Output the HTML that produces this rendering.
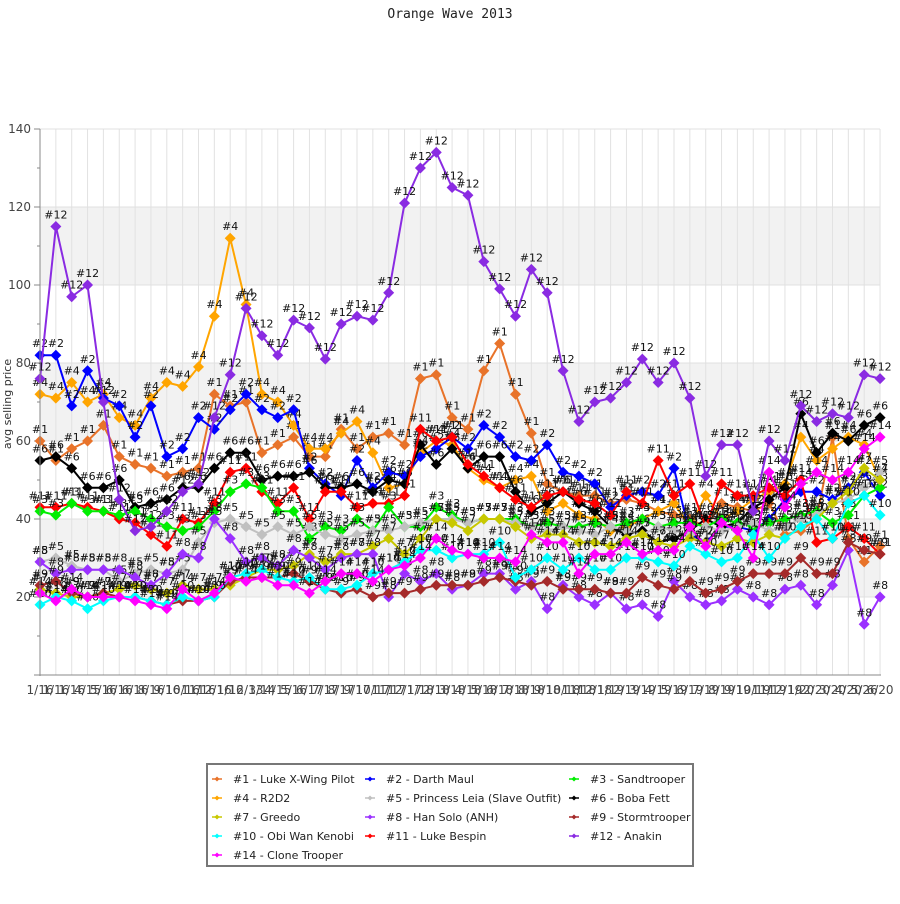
<!DOCTYPE html>
<html><head><meta charset="utf-8">
<style>
body{margin:0;background:#fff;width:900px;height:900px;overflow:hidden;font-family:"DejaVu Sans","Liberation Sans",sans-serif}
</style></head><body>
<svg id="c" width="900" height="900" xmlns="http://www.w3.org/2000/svg" font-family="DejaVu Sans, Liberation Sans, sans-serif">
<rect width="900" height="900" fill="#fff"/>
<text x="450" y="18" text-anchor="middle" font-family="DejaVu Sans Mono,Liberation Mono,monospace" font-size="13" fill="#222">Orange Wave 2013</text>
<rect x="40" y="207" width="840" height="78" fill="#f2f2f2"/>
<rect x="40" y="363" width="840" height="78" fill="#f2f2f2"/>
<rect x="40" y="519" width="840" height="78" fill="#f2f2f2"/>
<g id="grid"></g>
<g id="series"></g>
<line x1="40" y1="129" x2="40" y2="676" stroke="#888" stroke-width="1"/>
<line x1="34" y1="675" x2="881" y2="675" stroke="#888" stroke-width="1"/>
<text transform="translate(11,404) rotate(-90)" text-anchor="middle" font-size="11" fill="#333">avg selling price</text>
<rect x="207" y="764" width="486" height="102" fill="#fff" stroke="#777" stroke-width="2"/>
<g id="legend" font-size="11" fill="#222"></g>
</svg>
<script>
var NS="http://www.w3.org/2000/svg";
function el(t,a,p,txt){var e=document.createElementNS(NS,t);for(var k in a)e.setAttribute(k,a[k]);if(txt!=null)e.textContent=txt;p.appendChild(e);return e;}
var N=54,X0=40,DX=15.85;
function X(i){return X0+i*DX;}
function Y(v){return 675-v*3.9;}
var g=document.getElementById('grid');
for(var i=0;i<N;i++){el('line',{x1:X(i),y1:129,x2:X(i),y2:675,stroke:'#e2e2e2','stroke-width':1},g);}
for(var v=20;v<=140;v+=20){el('line',{x1:40,y1:Y(v),x2:880,y2:Y(v),stroke:'#e0e0e0','stroke-width':1},g);
el('line',{x1:34,y1:Y(v),x2:40,y2:Y(v),stroke:'#888'},g);
el('text',{x:31,y:Y(v)+4,'text-anchor':'end','font-size':12,fill:'#444'},g,String(v));}
for(var v=10;v<=130;v+=20){el('line',{x1:37,y1:Y(v),x2:40,y2:Y(v),stroke:'#888'},g);}
var dates=['1/16','1/16','1/16','4/15','5/16','6/16','6/16','8/16','9/16','10/16','11/16','12/16','1/16','12/13','3/14','4/15','5/16','6/17','7/17','8/17','9/17','10/17','11/17','12/17','1/18','2/18','3/18','4/18','5/18','6/18','7/18','8/18','9/18','10/18','11/18','12/18','1/19','2/19','3/19','4/19','5/19','6/19','7/19','8/19','9/19','10/19','11/19','12/19','1/20','2/20','3/20','4/20','5/26','6/20'];
for(var i=0;i<N;i++){el('text',{x:X(i),y:694,'text-anchor':'middle','font-size':12,fill:'#444'},g,dates[i]);}
var S=[
['1','#e8732a',[60,55,58,60,64,56,54,53,51,52,53,72,69,70,57,59,61,56,56,63,58,61,62,59,76,77,66,63,78,85,72,62,49,47,46,46,44,45,44,42,41,40,38,44,43,42,44,36,37,40,61,35,29,33]],
['4','#ffa500',[72,71,75,70,72,66,64,71,75,74,79,92,112,95,72,70,64,58,58,62,65,57,48,49,57,60,59,53,50,48,50,51,42,44,41,40,37,38,40,42,44,38,46,40,42,45,47,49,61,55,58,61,59,50]],
['2','#0000ff',[82,82,69,78,71,69,61,69,56,58,66,63,68,72,68,66,68,53,49,46,55,48,52,51,56,58,61,58,64,61,56,55,59,52,51,49,43,46,47,46,53,36,34,38,38,37,40,45,47,47,45,48,52,46]],
['6','#000000',[55,56,53,48,48,50,43,44,45,48,48,53,57,57,50,51,51,52,48,48,49,47,50,49,59,54,58,53,56,56,47,42,44,47,44,42,38,36,37,34,35,37,40,38,39,43,45,48,67,57,62,60,64,66]],
['11','#ff0000',[43,43,44,43,42,40,39,36,33,40,39,44,52,53,47,44,48,40,47,47,43,44,44,46,63,60,61,54,51,48,45,43,46,47,45,44,41,47,44,55,46,49,38,49,46,46,48,46,50,34,35,38,35,31]],
['3','#00ee00',[42,41,44,42,42,41,42,40,38,37,38,42,47,49,48,42,42,35,38,37,40,37,43,38,38,43,41,39,40,40,40,38,39,38,38,39,38,39,40,38,39,39,38,40,39,38,39,40,41,42,39,41,46,48]],
['5','#c0c0c0',[29,30,28,27,27,24,26,27,26,27,34,39,40,38,36,38,36,38,36,35,36,37,37,38,39,40,40,39,40,40,39,38,37,38,37,36,38,37,36,38,37,36,38,37,38,39,37,38,40,41,44,45,48,52]],
['7','#c8c800',[22,21,20,20,21,22,23,22,21,23,22,22,23,25,27,27,28,31,29,31,31,33,35,31,35,40,39,37,40,40,38,35,36,36,34,34,33,35,36,34,33,35,34,33,35,34,36,35,38,40,44,47,53,50]],
['8','#9b30ff',[29,26,27,27,27,27,25,23,26,31,30,40,35,29,30,28,32,30,27,30,31,31,20,26,24,26,22,23,26,26,22,24,17,23,20,18,21,17,18,15,24,20,18,19,22,20,18,22,23,18,23,32,13,20]],
['9','#a52a2a',[23,24,21,20,21,20,20,19,18,19,19,20,24,25,25,25,26,24,22,21,22,20,21,21,22,23,23,23,24,25,24,23,24,22,22,22,21,21,25,23,22,24,21,22,24,26,26,26,30,26,26,34,32,31]],
['10','#00ffff',[18,20,19,17,19,20,20,19,18,20,19,20,25,26,27,25,24,25,22,22,23,26,27,29,32,32,30,31,31,34,25,27,30,27,30,27,27,30,30,29,28,33,31,29,30,36,30,35,38,40,35,44,46,41]],
['14','#ff00ff',[21,19,22,20,20,20,19,18,17,22,19,21,25,24,25,23,23,21,24,26,26,24,27,28,30,35,32,31,30,30,29,36,34,34,26,31,31,34,31,32,32,38,33,39,37,30,52,43,49,52,50,52,58,61]],
['12','#8a2be2',[76,115,97,100,70,45,37,38,42,47,49,66,77,94,87,82,91,89,81,90,92,91,98,121,130,134,125,123,106,99,92,104,98,78,65,70,71,75,81,75,80,71,51,59,59,42,60,55,69,65,67,66,77,76]]
];
var sg=document.getElementById('series');
S.forEach(function(s){
  var pts=s[2].map(function(v,i){return X(i).toFixed(1)+','+Y(v).toFixed(1);}).join(' ');
  el('polyline',{points:pts,fill:'none',stroke:s[1],'stroke-width':2,'stroke-linejoin':'round'},sg);
  s[2].forEach(function(v,i){var x=X(i),y=Y(v);
    el('polygon',{points:(x)+','+(y-5.5)+' '+(x+5.5)+','+y+' '+x+','+(y+5.5)+' '+(x-5.5)+','+y,fill:s[1]},sg);
    el('text',{x:x,y:y-8,'text-anchor':'middle','font-size':11,fill:'#111'},sg,'#'+s[0]);
  });
});
var L=[['#1 - Luke X-Wing Pilot','#e8732a'],['#2 - Darth Maul','#0000ff'],['#3 - Sandtrooper','#00ee00'],
['#4 - R2D2','#ffa500'],['#5 - Princess Leia (Slave Outfit)','#c0c0c0'],['#6 - Boba Fett','#000000'],
['#7 - Greedo','#c8c800'],['#8 - Han Solo (ANH)','#9b30ff'],['#9 - Stormtrooper','#a52a2a'],
['#10 - Obi Wan Kenobi','#00ffff'],['#11 - Luke Bespin','#ff0000'],['#12 - Anakin','#8a2be2'],
['#14 - Clone Trooper','#ff00ff']];
var lg=document.getElementById('legend');var cx=[217,370,574];
L.forEach(function(l,k){var c=k%3,r=Math.floor(k/3);var x=cx[c],y=779+r*19;
  el('line',{x1:x-5,y1:y,x2:x+5,y2:y,stroke:l[1],'stroke-width':1.5},lg);
  el('polygon',{points:x+','+(y-2.5)+' '+(x+2.5)+','+y+' '+x+','+(y+2.5)+' '+(x-2.5)+','+y,fill:l[1]},lg);
  el('text',{x:x+16,y:y+4,'font-size':11,fill:'#222'},lg,l[0]);
});
</script>
</body></html>
